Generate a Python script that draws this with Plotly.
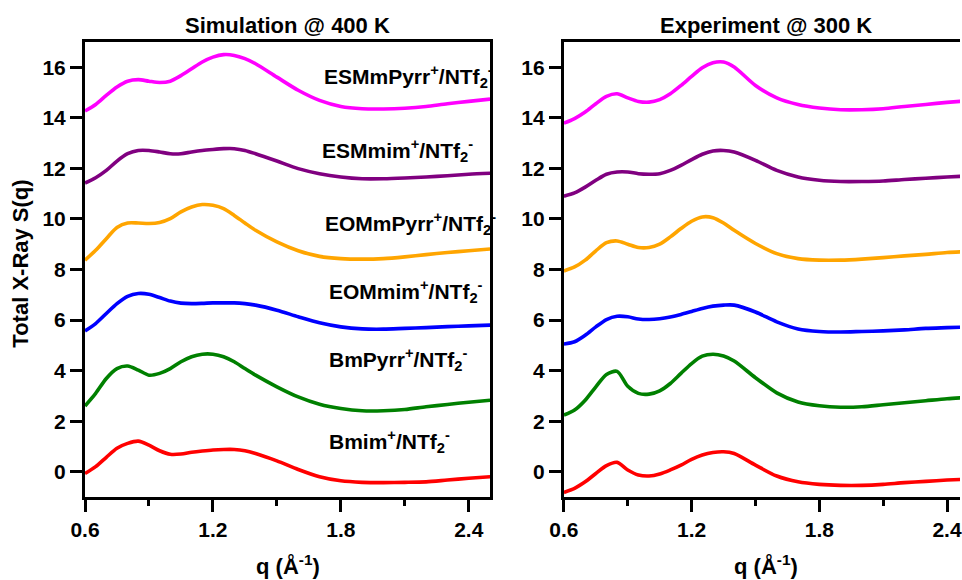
import plotly.graph_objects as go
from plotly.subplots import make_subplots

q = [0.6, 0.65, 0.7, 0.75, 0.8, 0.85, 0.9, 0.95, 1.0, 1.05, 1.1, 1.15, 1.2, 1.25, 1.3,
     1.35, 1.4, 1.5, 1.6, 1.7, 1.8, 1.9, 2.0, 2.1, 2.2, 2.3, 2.4, 2.5]

# Simulation @ 400 K
sim_esmmpyrr = [14.27, 14.53, 14.89, 15.22, 15.45, 15.51, 15.45, 15.40, 15.45, 15.67, 15.94, 16.21, 16.40, 16.50, 16.47,
                16.34, 16.14, 15.61, 15.09, 14.69, 14.45, 14.36, 14.35, 14.38, 14.45, 14.56, 14.65, 14.74]
sim_esmmim = [11.42, 11.63, 11.92, 12.29, 12.58, 12.71, 12.71, 12.65, 12.58, 12.58, 12.65, 12.71, 12.75, 12.78, 12.78,
              12.71, 12.58, 12.29, 11.99, 11.79, 11.66, 11.59, 11.59, 11.62, 11.66, 11.71, 11.77, 11.81]
sim_eommpyrr = [8.37, 8.76, 9.22, 9.66, 9.84, 9.84, 9.82, 9.86, 10.01, 10.28, 10.47, 10.57, 10.54, 10.41, 10.14,
                9.84, 9.55, 9.09, 8.74, 8.52, 8.43, 8.41, 8.43, 8.50, 8.59, 8.67, 8.74, 8.81]
sim_eommim = [5.57, 5.86, 6.26, 6.65, 6.94, 7.05, 7.02, 6.89, 6.75, 6.67, 6.65, 6.66, 6.68, 6.68, 6.68,
              6.65, 6.59, 6.39, 6.13, 5.89, 5.73, 5.65, 5.64, 5.67, 5.70, 5.74, 5.77, 5.80]
sim_bmpyrr = [2.60, 3.10, 3.69, 4.08, 4.18, 4.02, 3.82, 3.89, 4.08, 4.35, 4.55, 4.65, 4.65, 4.55, 4.35,
              4.08, 3.82, 3.36, 2.96, 2.67, 2.50, 2.41, 2.41, 2.46, 2.57, 2.66, 2.75, 2.83]
sim_bmim = [-0.07, 0.20, 0.57, 0.93, 1.12, 1.21, 1.05, 0.83, 0.69, 0.70, 0.77, 0.82, 0.86, 0.88, 0.88,
            0.83, 0.72, 0.43, 0.09, -0.20, -0.36, -0.42, -0.43, -0.42, -0.40, -0.33, -0.26, -0.20]

# Experiment @ 300 K
exp_esmmpyrr = [13.79, 13.97, 14.23, 14.56, 14.85, 14.95, 14.79, 14.65, 14.62, 14.72, 14.95, 15.28, 15.64, 15.98, 16.18,
                16.21, 16.01, 15.28, 14.79, 14.53, 14.39, 14.32, 14.32, 14.36, 14.45, 14.53, 14.61, 14.68]
exp_esmmim = [10.90, 11.03, 11.26, 11.53, 11.77, 11.86, 11.86, 11.79, 11.77, 11.79, 11.92, 12.12, 12.35, 12.56, 12.69,
              12.71, 12.65, 12.32, 11.92, 11.66, 11.53, 11.48, 11.48, 11.50, 11.56, 11.61, 11.66, 11.70]
exp_eommpyrr = [7.94, 8.10, 8.37, 8.74, 9.06, 9.13, 9.00, 8.87, 8.87, 9.00, 9.29, 9.62, 9.91, 10.08, 10.05,
                9.84, 9.55, 9.03, 8.63, 8.43, 8.37, 8.37, 8.41, 8.47, 8.54, 8.60, 8.67, 8.71]
exp_eommim = [5.05, 5.14, 5.40, 5.73, 6.02, 6.15, 6.13, 6.04, 6.02, 6.05, 6.12, 6.22, 6.34, 6.46, 6.55,
              6.59, 6.59, 6.32, 5.93, 5.65, 5.55, 5.53, 5.55, 5.57, 5.61, 5.67, 5.70, 5.73]
exp_bmpyrr = [2.24, 2.44, 2.83, 3.36, 3.85, 3.97, 3.38, 3.10, 3.07, 3.20, 3.49, 3.89, 4.28, 4.57, 4.65,
              4.58, 4.38, 3.72, 3.12, 2.76, 2.61, 2.55, 2.57, 2.65, 2.73, 2.81, 2.89, 2.94]
exp_bmim = [-0.82, -0.66, -0.40, -0.07, 0.24, 0.37, 0.07, -0.13, -0.17, -0.09, 0.07, 0.26, 0.49, 0.66, 0.76,
            0.79, 0.72, 0.26, -0.17, -0.40, -0.50, -0.54, -0.54, -0.50, -0.43, -0.38, -0.33, -0.29]

names = ["ESMmPyrr", "ESMmim", "EOMmPyrr", "EOMmim", "BmPyrr", "Bmim"]
colors = ["#ff00ff", "#800080", "#ffa500", "#0000ff", "#008000", "#ff0000"]
sim = [sim_esmmpyrr, sim_esmmim, sim_eommpyrr, sim_eommim, sim_bmpyrr, sim_bmim]
exp = [exp_esmmpyrr, exp_esmmim, exp_eommpyrr, exp_eommim, exp_bmpyrr, exp_bmim]
label_x = [1.71, 1.702, 1.714, 1.736, 1.733, 1.733]
label_y = [15.65, 12.72, 9.82, 7.12, 4.43, 1.21]

FONT = "Liberation Sans, Arial, Helvetica, sans-serif"

fig = make_subplots(rows=1, cols=2, horizontal_spacing=0.0)

for n, c, ys in zip(names, colors, sim):
    fig.add_trace(go.Scatter(x=q, y=ys, mode="lines", line=dict(color=c, width=3.6, shape="spline", smoothing=0.8),
                             name=n, showlegend=False), row=1, col=1)
for n, c, ys in zip(names, colors, exp):
    fig.add_trace(go.Scatter(x=q, y=ys, mode="lines", line=dict(color=c, width=3.6, shape="spline", smoothing=0.8),
                             name=n, showlegend=False), row=1, col=2)

tickfont = dict(family=FONT, size=21, color="black", weight="bold")
xcommon = dict(tickvals=[0.6, 1.2, 1.8, 2.4], ticktext=["0.6", "1.2", "1.8", "2.4"],
               ticks="outside", ticklen=12, tickwidth=2.5, tickcolor="black",
               showline=True, linewidth=3, linecolor="black", mirror=True,
               showgrid=False, zeroline=False, tickfont=tickfont, ticklabeloverflow="allow",
               minor=dict(tickvals=[0.9, 1.5, 2.1], ticks="outside", ticklen=6, tickwidth=2.5, tickcolor="black"))
ycommon = dict(tickvals=list(range(0, 17, 2)), range=[-1, 17],
               ticks="outside", ticklen=12, tickwidth=2.5, tickcolor="black",
               showline=True, linewidth=3, linecolor="black",
               showgrid=False, zeroline=False, tickfont=tickfont)

fig.update_xaxes(domain=[0, 406 / 877], range=[0.6, 2.5], **xcommon, row=1, col=1)
fig.update_xaxes(domain=[480 / 877, 1.0], range=[0.6, 0.6 + 397 / 128 * 0.6], **xcommon, row=1, col=2)
fig.update_yaxes(mirror=True, **ycommon, row=1, col=1)
fig.update_yaxes(mirror=False, **ycommon, row=1, col=2)

annots = []
for n, lx, ly in zip(names, label_x, label_y):
    annots.append(dict(x=lx, y=ly, xref="x", yref="y", xanchor="left", yanchor="middle",
                       text=f"<b>{n}<sup>+</sup>/NTf<sub>2</sub><sup>-</sup></b>", showarrow=False,
                       font=dict(family=FONT, size=21, color="black")))
annots.append(dict(x=1.55, y=1.036, xref="x", yref="paper", text="<b>Simulation @ 400 K</b>", showarrow=False,
                   xanchor="center", yanchor="middle", font=dict(family=FONT, size=22, color="black")))
annots.append(dict(x=1.55, y=1.036, xref="x2", yref="paper", text="<b>Experiment @ 300 K</b>", showarrow=False,
                   xanchor="center", yanchor="middle", font=dict(family=FONT, size=22, color="black")))
for xr in ["x", "x2"]:
    annots.append(dict(x=1.55, y=-0.150, xref=xr, yref="paper", text="<b>q (Å<sup>-1</sup>)</b>", showarrow=False,
                       xanchor="center", yanchor="middle", font=dict(family=FONT, size=22, color="black")))
annots.append(dict(x=-65 / 877, y=0.5, xref="paper", yref="paper", text="<b>Total X-Ray S(q)</b>", showarrow=False,
                   textangle=-90, xanchor="center", yanchor="middle", yshift=6,
                   font=dict(family=FONT, size=22, color="black")))

fig.update_layout(width=962, height=580, margin=dict(l=85, r=0, t=42, b=83),
                  plot_bgcolor="white", paper_bgcolor="white", annotations=annots, showlegend=False)

fig.write_html("out.html")
